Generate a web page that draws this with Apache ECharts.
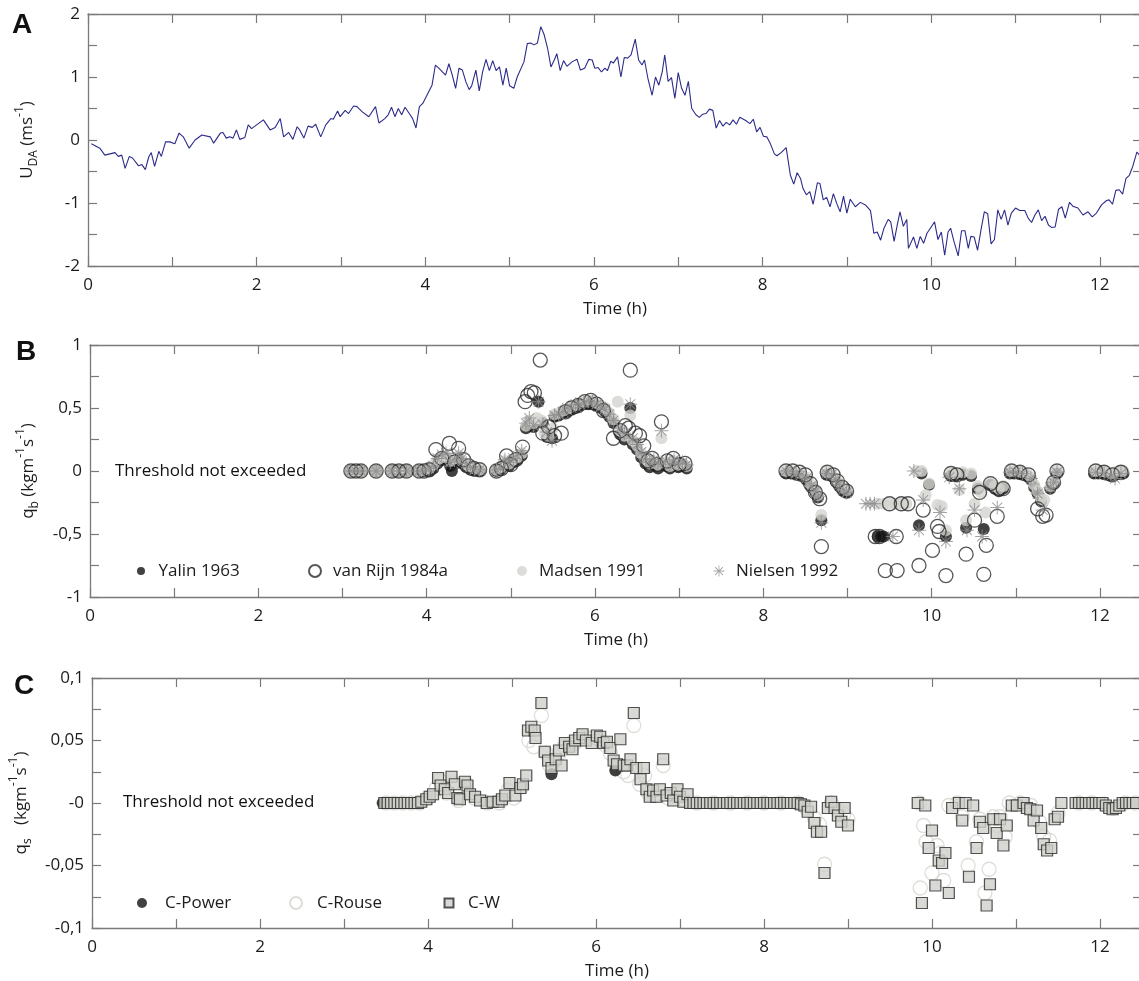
<!DOCTYPE html>
<html>
<head>
<meta charset="utf-8">
<script src="https://cdn.jsdelivr.net/npm/echarts@6/dist/echarts.min.js"></script>
<style>
  html, body { margin: 0; padding: 0; background: #fff; }
  #chart { width: 1139px; height: 981px; }
</style>
</head>
<body>
<div id="chart"></div>
<script>
// ---- data ----
// A: depth averaged velocity, [time (h), U_DA (m/s)]
var uda = [
  [0.04,-0.06],[0.14,-0.13],[0.2,-0.24],[0.26,-0.22],[0.32,-0.2],[0.36,-0.26],[0.4,-0.24],[0.44,-0.45],[0.49,-0.26],[0.53,-0.29],
  [0.6,-0.41],[0.64,-0.39],[0.68,-0.47],[0.72,-0.27],[0.75,-0.2],[0.79,-0.42],[0.84,-0.18],[0.87,-0.26],[0.92,-0.03],[0.97,-0.03],
  [1.03,-0.06],[1.08,0.11],[1.13,0.05],[1.2,-0.13],[1.27,0],[1.35,0.08],[1.45,0.05],[1.49,-0.05],[1.57,0.11],[1.6,0.12],
  [1.64,0.03],[1.68,0.05],[1.72,0.03],[1.76,0.16],[1.8,0.01],[1.86,0.04],[1.9,0.24],[1.94,0.18],[2.0,0.24],[2.08,0.32],
  [2.16,0.16],[2.22,0.2],[2.28,0.34],[2.32,0.05],[2.38,0.12],[2.43,0.01],[2.48,0.21],[2.51,0.16],[2.56,0.03],[2.61,0.22],
  [2.66,0.2],[2.7,0.25],[2.76,0.05],[2.82,0.24],[2.88,0.34],[2.91,0.33],[2.96,0.46],[2.99,0.37],[3.05,0.47],[3.09,0.42],
  [3.15,0.54],[3.19,0.53],[3.25,0.45],[3.33,0.37],[3.41,0.53],[3.45,0.27],[3.52,0.34],[3.56,0.4],[3.6,0.52],[3.64,0.37],
  [3.68,0.5],[3.72,0.4],[3.76,0.52],[3.82,0.4],[3.85,0.34],[3.89,0.19],[3.93,0.53],[3.97,0.58],[4.08,0.87],[4.12,1.19],
  [4.16,1.14],[4.24,1.03],[4.28,1.21],[4.32,1.03],[4.36,0.82],[4.4,1.14],[4.44,1.11],[4.48,0.93],[4.52,0.8],[4.55,0.86],
  [4.6,1.11],[4.64,0.78],[4.68,1.08],[4.72,1.28],[4.76,1.1],[4.8,1.26],[4.84,1.1],[4.88,1.16],[4.92,0.87],[4.96,1.14],
  [5.0,0.86],[5.05,0.82],[5.09,1.0],[5.17,1.24],[5.21,1.53],[5.25,1.54],[5.29,1.51],[5.33,1.54],[5.37,1.8],[5.41,1.67],
  [5.45,1.46],[5.49,1.16],[5.53,1.27],[5.56,1.37],[5.6,1.1],[5.64,1.26],[5.68,1.17],[5.74,1.24],[5.8,1.28],[5.84,1.11],
  [5.89,1.14],[5.94,1.28],[5.98,1.27],[6.01,1.14],[6.05,1.15],[6.09,1.08],[6.13,1.14],[6.16,1.1],[6.2,1.25],[6.23,1.22],
  [6.28,1.32],[6.32,1.0],[6.36,1.31],[6.4,1.3],[6.44,1.35],[6.49,1.6],[6.53,1.27],[6.57,1.19],[6.6,1.27],[6.64,0.98],
  [6.69,0.71],[6.73,1.0],[6.77,0.87],[6.81,1.08],[6.84,1.35],[6.88,0.93],[6.92,0.99],[6.96,0.66],[7.0,1.07],[7.04,0.82],
  [7.08,0.71],[7.12,0.93],[7.16,0.5],[7.21,0.4],[7.25,0.36],[7.29,0.41],[7.33,0.42],[7.37,0.49],[7.41,0.47],[7.45,0.19],
  [7.49,0.31],[7.53,0.22],[7.57,0.28],[7.61,0.24],[7.65,0.32],[7.69,0.25],[7.73,0.36],[7.8,0.31],[7.85,0.26],[7.89,0.33],
  [7.93,0.13],[7.97,0.2],[8.01,0.06],[8.05,0.05],[8.09,-0.05],[8.14,-0.22],[8.17,-0.25],[8.22,-0.2],[8.28,-0.12],[8.33,-0.56],
  [8.37,-0.7],[8.41,-0.52],[8.45,-0.61],[8.48,-0.77],[8.52,-0.87],[8.56,-0.82],[8.6,-1.02],[8.65,-0.68],[8.68,-0.69],[8.72,-0.95],
  [8.76,-0.91],[8.8,-1.06],[8.84,-0.85],[8.88,-1.01],[8.92,-1.14],[8.96,-0.89],[9.0,-1.16],[9.04,-0.94],[9.1,-1.06],[9.16,-0.99],
  [9.22,-1.03],[9.28,-1.12],[9.32,-1.48],[9.36,-1.46],[9.4,-1.59],[9.44,-1.4],[9.49,-1.26],[9.52,-1.3],[9.56,-1.61],[9.6,-1.33],
  [9.63,-1.14],[9.67,-1.37],[9.71,-1.26],[9.73,-1.72],[9.79,-1.54],[9.83,-1.72],[9.87,-1.53],[9.91,-1.64],[9.95,-1.48],[10.0,-1.38],
  [10.04,-1.3],[10.08,-1.58],[10.12,-1.46],[10.16,-1.83],[10.2,-1.46],[10.23,-1.4],[10.27,-1.61],[10.32,-1.84],[10.36,-1.44],[10.4,-1.44],
  [10.44,-1.72],[10.47,-1.53],[10.51,-1.54],[10.55,-1.75],[10.59,-1.43],[10.63,-1.14],[10.67,-1.17],[10.71,-1.65],[10.75,-1.58],[10.79,-1.11],
  [10.83,-1.26],[10.87,-1.11],[10.91,-1.35],[10.95,-1.16],[11.0,-1.08],[11.05,-1.12],[11.11,-1.12],[11.15,-1.24],[11.19,-1.31],[11.23,-1.19],
  [11.27,-1.11],[11.31,-1.28],[11.35,-1.21],[11.39,-1.35],[11.43,-1.39],[11.47,-1.38],[11.51,-1.1],[11.55,-1.06],[11.59,-1.24],[11.64,-0.99],
  [11.68,-1.05],[11.74,-1.08],[11.8,-1.19],[11.86,-1.14],[11.91,-1.22],[11.96,-1.16],[12.02,-1.03],[12.08,-0.96],[12.11,-0.95],[12.15,-1.02],
  [12.19,-0.8],[12.23,-0.79],[12.27,-0.86],[12.31,-0.61],[12.35,-0.56],[12.39,-0.42],[12.44,-0.19],[12.48,-0.26]
];

// B: bedload transport, [time (h), q_b]
var yalin = [
  [3.1,0],[3.16,0],[3.22,0],[3.4,0],[3.59,0],[3.67,0],[3.76,0],[3.91,0],[3.97,0],[4.03,0],
  [4.08,0.02],[4.13,0.06],[4.18,0.09],[4.23,0.1],[4.28,0.04],[4.3,0],[4.33,0.07],[4.38,0.1],[4.42,0.06],[4.47,0.03],
  [4.52,0.01],[4.57,0],[4.63,0],[4.83,0],[4.88,0.01],[4.93,0.05],[4.98,0.04],[5.03,0.07],[5.08,0.09],[5.13,0.12],
  [5.18,0.34],[5.22,0.37],[5.27,0.35],[5.33,0.55],[5.38,0.38],[5.43,0.27],[5.49,0.26],[5.52,0.43],[5.57,0.44],[5.62,0.46],
  [5.67,0.47],[5.72,0.49],[5.77,0.5],[5.82,0.52],[5.87,0.53],[5.92,0.53],[5.97,0.53],[6.02,0.52],[6.07,0.5],[6.12,0.47],
  [6.17,0.43],[6.22,0.38],[6.3,0.29],[6.35,0.25],[6.42,0.5],[6.45,0.21],[6.5,0.17],[6.55,0.11],[6.6,0.06],[6.65,0.03],
  [6.7,0.05],[6.75,0.02],[6.84,0.04],[6.89,0.02],[6.94,0.05],[6.99,0.03],[7.04,0.04],[7.09,0.02],
  [8.27,-0.02],[8.33,-0.02],[8.39,-0.03],[8.45,-0.04],[8.51,-0.07],[8.57,-0.13],[8.62,-0.17],[8.65,-0.21],[8.69,-0.39],[8.75,-0.03],
  [8.81,-0.04],[8.86,-0.08],[8.9,-0.12],[8.95,-0.16],[8.99,-0.17],[9.36,-0.52],[9.4,-0.52],[9.43,-0.52],[9.85,-0.43],[9.88,-0.02],
  [9.97,-0.11],[10.17,-0.52],[10.23,-0.04],[10.28,-0.04],[10.37,-0.03],[10.41,-0.45],[10.47,-0.04],[10.55,-0.14],[10.62,-0.46],[10.7,-0.11],
  [10.75,-0.14],[10.8,-0.16],[10.85,-0.14],[10.93,-0.02],[10.98,-0.02],[11.03,-0.02],[11.08,-0.03],[11.13,-0.04],[11.18,-0.07],[11.22,-0.13],
  [11.26,-0.18],[11.3,-0.24],[11.41,-0.14],[11.45,-0.1],[11.49,-0.02],[11.93,-0.02],[11.98,-0.02],[12.03,-0.02],[12.08,-0.03],[12.13,-0.04],
  [12.18,-0.03],[12.23,-0.02],[12.28,-0.02]
];
var vanRijn = [
  [3.1,0],[3.16,0],[3.22,0],[3.4,0],[3.59,0],[3.67,0],[3.76,0],[3.91,0],[3.97,0],[4.03,0.01],
  [4.11,0.17],[4.18,0.1],[4.27,0.22],[4.33,0.07],[4.38,0.18],[4.44,0.09],[4.5,0.04],[4.56,0.02],[4.63,0.01],[4.83,0],
  [4.89,0.02],[4.95,0.12],[5.0,0.05],[5.06,0.09],[5.14,0.19],[5.17,0.55],[5.2,0.6],[5.24,0.63],[5.28,0.62],[5.35,0.88],
  [5.38,0.3],[5.45,0.35],[5.52,0.28],[5.6,0.3],[5.65,0.47],[5.72,0.5],[5.8,0.52],[5.88,0.55],[5.95,0.56],[6.02,0.53],
  [6.1,0.48],[6.22,0.26],[6.3,0.32],[6.36,0.36],[6.4,0.34],[6.42,0.8],[6.48,0.3],[6.53,0.28],[6.58,0.2],[6.63,0.08],
  [6.68,0.1],[6.73,0.05],[6.79,0.39],[6.86,0.08],[6.93,0.1],[7.0,0.05],[7.07,0.06],
  [8.27,0],[8.35,0],[8.43,-0.01],[8.5,-0.03],[8.56,-0.1],[8.62,-0.17],[8.67,-0.22],[8.69,-0.6],[8.76,-0.01],[8.83,-0.03],
  [8.88,-0.08],[8.94,-0.13],[8.99,-0.16],[9.33,-0.52],[9.38,-0.52],[9.45,-0.79],[9.5,-0.26],[9.58,-0.52],[9.59,-0.79],[9.64,-0.26],
  [9.72,-0.26],[9.85,-0.75],[9.9,-0.31],[10.01,-0.63],[10.07,-0.44],[10.09,-0.48],[10.17,-0.83],[10.23,-0.02],[10.3,-0.03],[10.41,-0.66],
  [10.51,-0.39],[10.57,-0.17],[10.62,-0.82],[10.65,-0.59],[10.7,-0.1],[10.78,-0.36],[10.85,-0.14],[10.95,0],[11.05,-0.01],[11.15,-0.03],
  [11.26,-0.3],[11.32,-0.36],[11.36,-0.35],[11.45,-0.09],[11.49,0],[11.95,0],[12.05,-0.01],[12.15,-0.03],[12.25,-0.01]
];
var madsen = [
  [3.1,0],[3.16,0],[3.22,0],[3.4,0],[3.59,0],[3.67,0],[3.76,0],[3.91,0],[3.97,0.01],[4.03,0.02],
  [4.08,0.05],[4.13,0.09],[4.18,0.11],[4.23,0.12],[4.28,0.08],[4.33,0.1],[4.38,0.12],[4.42,0.08],[4.47,0.05],[4.52,0.03],
  [4.57,0.02],[4.63,0.01],[4.83,0.01],[4.88,0.03],[4.93,0.08],[4.98,0.06],[5.03,0.09],[5.08,0.11],[5.13,0.14],[5.18,0.36],
  [5.22,0.4],[5.27,0.38],[5.31,0.42],[5.36,0.4],[5.4,0.3],[5.45,0.28],[5.5,0.34],[5.52,0.45],[5.57,0.46],[5.62,0.48],
  [5.67,0.49],[5.72,0.51],[5.77,0.52],[5.82,0.54],[5.87,0.55],[5.92,0.55],[5.97,0.56],[6.02,0.54],[6.07,0.52],[6.12,0.5],
  [6.17,0.46],[6.22,0.41],[6.27,0.55],[6.3,0.32],[6.35,0.28],[6.42,0.44],[6.45,0.24],[6.5,0.2],[6.55,0.14],[6.6,0.09],
  [6.65,0.06],[6.7,0.08],[6.75,0.05],[6.79,0.26],[6.84,0.07],[6.89,0.04],[6.94,0.08],[6.99,0.05],[7.04,0.06],[7.09,0.04],
  [8.27,0],[8.33,0],[8.39,-0.01],[8.45,-0.02],[8.51,-0.05],[8.57,-0.11],[8.62,-0.15],[8.65,-0.19],[8.69,-0.35],[8.75,-0.01],
  [8.81,-0.02],[8.86,-0.06],[8.9,-0.1],[8.95,-0.14],[8.99,-0.15],[9.36,-0.26],[9.43,-0.26],[9.5,-0.26],[9.57,-0.26],[9.64,-0.26],
  [9.7,-0.26],[9.82,0],[9.88,0],[9.93,-0.19],[9.97,-0.1],[10.07,-0.27],[10.12,-0.28],[10.17,-0.47],[10.23,-0.02],[10.28,-0.02],
  [10.33,-0.15],[10.37,-0.01],[10.41,-0.39],[10.47,-0.02],[10.51,-0.26],[10.55,-0.12],[10.59,-0.17],[10.64,-0.33],[10.7,-0.09],[10.75,-0.12],
  [10.8,-0.14],[10.85,-0.12],[10.93,0],[10.98,0],[11.03,0],[11.08,-0.01],[11.13,-0.02],[11.18,-0.05],[11.22,-0.11],[11.26,-0.16],
  [11.3,-0.22],[11.34,-0.23],[11.41,-0.12],[11.45,-0.08],[11.49,0],[11.93,0],[11.98,0],[12.03,0],[12.08,-0.01],[12.13,-0.02],
  [12.18,-0.01],[12.23,0],[12.28,0]
];
var nielsen = [
  [3.1,0],[3.16,0],[3.22,0],[3.4,0],[3.59,0],[3.67,0],[3.76,0],[3.91,0],[3.97,0],[4.03,0.02],
  [4.08,0.04],[4.13,0.1],[4.18,0.13],[4.23,0.14],[4.28,0.07],[4.33,0.09],[4.38,0.14],[4.42,0.1],[4.47,0.06],[4.52,0.03],
  [4.57,0.01],[4.63,0.01],[4.83,0.01],[4.88,0.02],[4.93,0.09],[4.98,0.07],[5.03,0.1],[5.08,0.12],[5.13,0.16],[5.18,0.38],
  [5.22,0.42],[5.27,0.36],[5.33,0.55],[5.38,0.37],[5.43,0.31],[5.49,0.24],[5.52,0.44],[5.57,0.45],[5.62,0.47],[5.67,0.5],
  [5.72,0.5],[5.77,0.53],[5.82,0.53],[5.87,0.54],[5.92,0.56],[5.97,0.55],[6.02,0.53],[6.07,0.51],[6.12,0.49],[6.17,0.45],
  [6.22,0.4],[6.3,0.34],[6.35,0.3],[6.42,0.53],[6.45,0.26],[6.5,0.21],[6.55,0.15],[6.6,0.1],[6.65,0.07],[6.7,0.09],
  [6.75,0.06],[6.79,0.32],[6.84,0.08],[6.89,0.05],[6.94,0.09],[6.99,0.06],[7.04,0.07],[7.09,0.05],
  [8.27,0],[8.33,0],[8.39,-0.02],[8.45,-0.03],[8.51,-0.06],[8.57,-0.12],[8.62,-0.16],[8.65,-0.2],[8.69,-0.41],[8.75,-0.02],
  [8.81,-0.03],[8.86,-0.07],[8.9,-0.11],[8.95,-0.15],[8.99,-0.17],[9.22,-0.26],[9.27,-0.26],[9.32,-0.26],[9.54,-0.52],[9.79,0],
  [9.85,-0.47],[9.9,-0.23],[10.1,-0.33],[10.17,-0.56],[10.21,-0.05],[10.33,-0.14],[10.42,-0.47],[10.51,-0.31],[10.6,-0.52],[10.78,-0.29],
  [10.93,-0.01],[11.0,-0.01],[11.08,-0.02],[11.18,-0.06],[11.26,-0.18],[11.32,-0.31],[11.41,-0.13],[11.45,-0.09],[11.49,-0.01],[11.95,-0.01],
  [12.05,-0.02],[12.13,-0.04],[12.18,-0.06],[12.25,-0.02]
];

// C: suspended transport, [time (h), q_s]
var cPower = [[3.46,0],[5.47,0.023],[6.23,0.026]];
var cRouse = [
  [3.5,0],[3.6,0],[3.7,0],[3.8,0],[3.9,0],[4.0,0.004],[4.1,0.012],[4.14,0.018],[4.22,0.008],[4.3,0.016],
  [4.36,0.002],[4.45,0.015],[4.55,0.004],[4.7,0],[4.85,0],[4.95,0.01],[5.02,0.004],[5.12,0.013],[5.2,0.05],[5.26,0.045],
  [5.35,0.07],[5.4,0.04],[5.45,0.03],[5.5,0.033],[5.56,0.04],[5.62,0.045],[5.68,0.047],[5.75,0.048],[5.82,0.053],[5.9,0.052],
  [5.97,0.052],[6.03,0.051],[6.1,0.047],[6.17,0.04],[6.25,0.029],[6.33,0.025],[6.38,0.022],[6.45,0.062],[6.52,0.015],[6.58,0.022],
  [6.62,0.008],[6.7,0.006],[6.8,0.03],[6.86,0.004],[6.95,0.008],[7.05,0.002],[7.2,0],[7.4,0],[7.6,0],[7.8,0],
  [8.0,0],[8.2,0],[8.4,0],[8.5,-0.004],[8.6,-0.012],[8.66,-0.017],[8.72,-0.049],[8.8,0],[8.88,-0.006],[8.95,-0.009],
  [9.0,-0.013],[9.85,0],[9.9,-0.018],[9.93,-0.031],[9.86,-0.068],[10.0,-0.056],[10.06,-0.034],[10.1,-0.04],[10.14,-0.062],[10.2,-0.002],
  [10.3,0],[10.36,-0.011],[10.43,-0.05],[10.53,-0.031],[10.57,-0.013],[10.63,-0.072],[10.68,-0.053],[10.73,-0.011],[10.78,-0.018],[10.81,-0.011],
  [10.87,-0.027],[10.92,0],[11.05,0],[11.18,-0.002],[11.28,-0.015],[11.33,-0.027],[11.4,-0.03],[11.5,-0.008],[11.75,0],[11.9,0],
  [12.05,-0.001],[12.15,-0.004],[12.3,0],[12.42,0]
];
var cW = [
  [3.48,0],[3.52,0],[3.56,0],[3.6,0],[3.64,0],[3.68,0],[3.72,0],[3.76,0],[3.8,0],[3.84,0],
  [3.88,0],[3.92,0.001],[3.98,0.003],[4.02,0.005],[4.06,0.007],[4.12,0.02],[4.15,0.014],[4.2,0.011],[4.24,0.008],[4.28,0.021],
  [4.32,0.015],[4.35,0.004],[4.38,0.003],[4.44,0.017],[4.47,0.014],[4.5,0.007],[4.56,0.005],[4.62,0.002],[4.7,0],[4.77,0.001],
  [4.84,0.001],[4.88,0.003],[4.92,0.006],[4.97,0.016],[5.04,0.006],[5.1,0.012],[5.13,0.015],[5.17,0.022],[5.19,0.058],[5.23,0.061],
  [5.27,0.058],[5.28,0.052],[5.35,0.08],[5.39,0.041],[5.43,0.034],[5.47,0.028],[5.52,0.035],[5.56,0.042],[5.59,0.03],[5.63,0.048],
  [5.68,0.045],[5.72,0.043],[5.75,0.05],[5.8,0.052],[5.84,0.055],[5.88,0.05],[5.95,0.048],[6.01,0.054],[6.05,0.053],[6.09,0.048],
  [6.13,0.049],[6.17,0.044],[6.21,0.034],[6.25,0.031],[6.29,0.051],[6.33,0.03],[6.37,0.03],[6.41,0.035],[6.45,0.072],[6.48,0.028],
  [6.53,0.019],[6.57,0.028],[6.6,0.011],[6.64,0.005],[6.68,0.01],[6.72,0.005],[6.76,0.011],[6.8,0.035],[6.84,0.006],[6.89,0.008],
  [6.92,0.002],[6.97,0.011],[7.0,0.005],[7.04,0.001],[7.09,0.007],[7.12,0],[7.16,0],[7.2,0],[7.24,0],[7.28,0],
  [7.32,0],[7.36,0],[7.4,0],[7.44,0],[7.48,0],[7.52,0],[7.56,0],[7.6,0],[7.64,0],[7.68,0],
  [7.72,0],[7.76,0],[7.8,0],[7.84,0],[7.88,0],[7.92,0],[7.96,0],[8.0,0],[8.04,0],[8.08,0],
  [8.12,0],[8.16,0],[8.2,0],[8.24,0],[8.28,0],[8.32,0],[8.36,0],[8.4,0],[8.44,-0.001],[8.48,-0.002],
  [8.52,-0.007],[8.56,-0.003],[8.6,-0.016],[8.63,-0.023],[8.68,-0.023],[8.72,-0.056],[8.76,-0.004],[8.8,0.001],[8.84,-0.004],[8.88,-0.01],
  [8.92,-0.015],[8.96,-0.004],[9.0,-0.018],[9.83,0],[9.92,-0.002],[9.88,-0.08],[9.96,-0.036],[10.0,-0.022],[10.04,-0.066],[10.08,-0.046],
  [10.12,-0.048],[10.16,-0.04],[10.2,-0.072],[10.24,-0.004],[10.32,0],[10.36,-0.014],[10.4,0],[10.44,-0.059],[10.49,-0.002],[10.53,-0.036],
  [10.57,-0.015],[10.61,-0.02],[10.65,-0.082],[10.69,-0.065],[10.73,-0.013],[10.77,-0.024],[10.81,-0.013],[10.85,-0.034],[10.89,-0.018],[10.95,-0.002],
  [11.01,-0.002],[11.09,0],[11.13,-0.004],[11.17,-0.005],[11.21,-0.014],[11.25,-0.006],[11.3,-0.02],[11.33,-0.033],[11.37,-0.038],[11.42,-0.036],
  [11.46,-0.013],[11.5,-0.011],[11.54,0],[11.71,0],[11.75,0],[11.79,0],[11.83,0],[11.87,0],[11.91,0],[11.95,0],
  [11.99,0],[12.03,0],[12.07,-0.002],[12.11,-0.004],[12.15,-0.005],[12.19,-0.004],[12.23,-0.002],[12.27,0],[12.31,0],[12.35,0],
  [12.39,0],[12.43,0]
];

// tick labels
var timeLabels = ['0', '2', '4', '6', '8', '10', '12'];
var udaLabels = ['-2', '-1', '0', '1', '2'];
var qbLabels = ['-1', '-0,5', '0', '0,5', '1'];
var qsLabels = ['-0,1', '-0,05', '-0', '0,05', '0,1'];

var FONT = '"Open Sans", "Noto Sans", sans-serif';
var TXT = '#1c1c1c';
var AXC = '#7a7a7a';
var T_MAX = 12.5;

// asterisk marker for Nielsen
var STAR = 'path://M0 9.3L20 9.3L20 10.7L0 10.7Z M9.3 0L10.7 0L10.7 20L9.3 20Z ' +
    'M3.43 2.43L17.57 16.57L16.57 17.57L2.43 3.43Z M17.57 3.43L3.43 17.57L2.43 16.57L16.57 2.43Z';

function labelFmt(labels, min, step) {
    return function (v) {
        var k = (v - min) / step;
        var r = Math.round(k);
        if (Math.abs(k - r) < 1e-6 && labels[r] !== undefined) return labels[r];
        return '';
    };
}

function xAxisFor(grid, pos) {
    var bottom = pos == 'bottom';
    return {
        type: 'value', gridIndex: grid, position: pos,
        min: 0, max: T_MAX, interval: 1,
        axisLine: { show: true, onZero: false, lineStyle: { color: AXC, width: 1.3 } },
        axisTick: { show: true, inside: true, length: 9, lineStyle: { color: AXC, width: 1.2 } },
        axisLabel: {
            show: bottom, margin: 11, color: TXT, fontSize: 17, fontFamily: FONT,
            formatter: labelFmt(timeLabels, 0, 2)
        },
        splitLine: { show: false },
        name: bottom ? 'Time (h)' : '',
        nameLocation: 'middle', nameGap: 35,
        nameTextStyle: { color: TXT, fontSize: 17, fontFamily: FONT }
    };
}

function yAxisFor(grid, pos, min, max, step, labels, labelStep, name, gap) {
    var left = pos == 'left';
    return {
        type: 'value', gridIndex: grid, position: pos,
        min: min, max: max, interval: step,
        axisLine: { show: true, onZero: false, lineStyle: { color: AXC, width: 1.3 } },
        axisTick: { show: true, inside: true, length: 9, lineStyle: { color: AXC, width: 1.2 } },
        axisLabel: {
            show: left, margin: 8, color: TXT, fontSize: 17, fontFamily: FONT,
            formatter: labelFmt(labels, min, labelStep)
        },
        splitLine: { show: false },
        name: left ? name : '',
        nameLocation: 'middle', nameRotate: 90, nameGap: gap,
        nameTextStyle: {
            color: TXT,
            rich: {
                n: { fontSize: 17, fontFamily: FONT, color: TXT, lineHeight: 26 },
                sub: { fontSize: 12, fontFamily: FONT, color: TXT, lineHeight: 12, verticalAlign: 'bottom' },
                sup: { fontSize: 12, fontFamily: FONT, color: TXT, lineHeight: 12, verticalAlign: 'top' }
            }
        }
    };
}

function legendFor(name, left, top, size, pad) {
    return {
        data: [name], left: left, top: top, padding: 0,
        itemWidth: size, itemHeight: size, selectedMode: false,
        textStyle: { color: TXT, fontSize: 17, fontFamily: FONT, lineHeight: 20, padding: [0, 0, 0, pad] }
    };
}

function scatter(name, data, xi, symbol, size, style) {
    return {
        name: name, type: 'scatter', xAxisIndex: xi, yAxisIndex: xi,
        data: data, symbol: symbol, symbolSize: size, itemStyle: style,
        emphasis: { disabled: true }
    };
}

function panelText(text, x, y, size, weight) {
    return {
        type: 'text', x: x, y: y, silent: true,
        style: {
            text: text, fill: '#111', fontSize: size, fontWeight: weight || 'normal',
            fontFamily: weight ? '"Liberation Sans", Arial, sans-serif' : FONT,
            verticalAlign: 'middle'
        }
    };
}

var myChart = echarts.init(document.getElementById('chart'));
var option = {
    backgroundColor: '#fff',
    animation: false,
    grid: [
        // outerBoundsMode none: let the right frame sit just past the canvas edge like the figure
        { left: 88, top: 14, width: 1054, height: 252, outerBoundsMode: 'none' },
        { left: 90, top: 345, width: 1052, height: 252, outerBoundsMode: 'none' },
        { left: 92, top: 678, width: 1050, height: 250, outerBoundsMode: 'none' }
    ],
    xAxis: [
        xAxisFor(0, 'bottom'), xAxisFor(0, 'top'),
        xAxisFor(1, 'bottom'), xAxisFor(1, 'top'),
        xAxisFor(2, 'bottom'), xAxisFor(2, 'top')
    ],
    yAxis: [
        yAxisFor(0, 'left', -2, 2, 0.5, udaLabels, 1, '{n|U}{sub|DA}{n| (ms}{sup|-1}{n|)}', 48),
        yAxisFor(0, 'right', -2, 2, 0.5, udaLabels, 1, '', 0),
        yAxisFor(1, 'left', -1, 1, 0.25, qbLabels, 0.5, '{n|q}{sub|b}{n| (kgm}{sup|-1}{n|s}{sup|-1}{n|)}', 49),
        yAxisFor(1, 'right', -1, 1, 0.25, qbLabels, 0.5, '', 0),
        yAxisFor(2, 'left', -0.1, 0.1, 0.025, qsLabels, 0.05, '{n|q}{sub|s}{n|   (kgm}{sup|-1}{n|s}{sup|-1}{n|)}', 52),
        yAxisFor(2, 'right', -0.1, 0.1, 0.025, qsLabels, 0.05, '', 0)
    ],
    legend: [
        legendFor('Yalin 1963', 137, 561, 8, 8.5),
        legendFor('van Rijn 1984a', 308, 561, 12, 7),
        legendFor('Madsen 1991', 517, 561, 10, 7),
        legendFor('Nielsen 1992', 713.5, 561, 11, 6.5),
        legendFor('C-Power', 137, 893, 10, 13),
        legendFor('C-Rouse', 289, 893, 12, 10),
        legendFor('C-W', 443.5, 893, 9, 9.5)
    ],
    graphic: [
        panelText('A', 12, 25, 28, 'bold'),
        panelText('B', 16, 352, 28, 'bold'),
        panelText('C', 14, 686, 28, 'bold'),
        panelText('Threshold not exceeded', 115, 471, 17),
        panelText('Threshold not exceeded', 123, 802, 17)
    ],
    series: [
        {
            name: 'UDA', type: 'line', xAxisIndex: 0, yAxisIndex: 0,
            data: uda, showSymbol: false, symbol: 'none', clip: true,
            lineStyle: { color: '#2c2b8a', width: 1.1 }
        },
        scatter('Yalin 1963', yalin, 2, 'circle', 12, { color: '#111' }),
        scatter('Madsen 1991', madsen, 2, 'circle', 12, { color: '#d3d3cf' }),
        scatter('van Rijn 1984a', vanRijn, 2, 'circle', 14,
            { color: 'rgba(255,255,255,0)', borderColor: '#2a2a2a', borderWidth: 1.3 }),
        scatter('Nielsen 1992', nielsen, 2, STAR, 14, { color: '#8c8c8c' }),
        scatter('C-Rouse', cRouse, 4, 'circle', 14,
            { color: 'rgba(255,255,255,0)', borderColor: '#d6d6d0', borderWidth: 1.3 }),
        scatter('C-Power', cPower, 4, 'circle', 12, { color: '#111' }),
        scatter('C-W', cW, 4, 'rect', 11, { color: '#cfcfcb', borderColor: '#2b2b2b', borderWidth: 1.2 })
    ]
};
myChart.setOption(option);
window.addEventListener('resize', function () {
    myChart.resize();
});
</script>
</body>
</html>
